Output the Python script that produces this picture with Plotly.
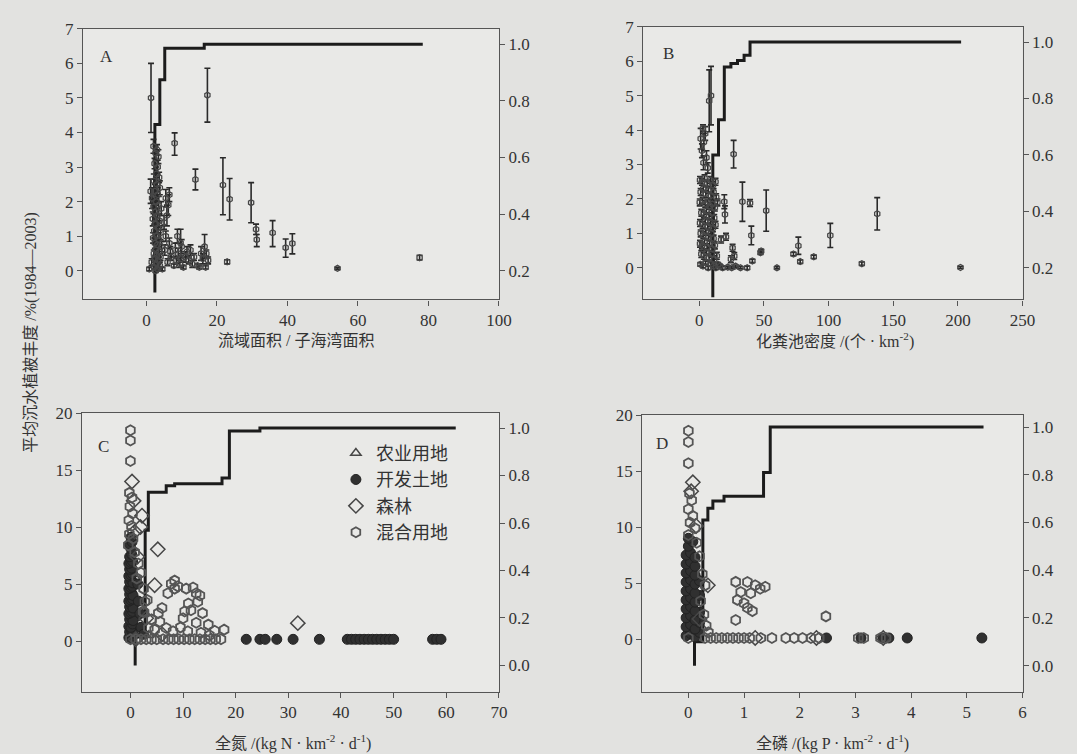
import plotly.graph_objects as go

# ---------------- Panel A data ----------------
A_x = [1.3, 17.3, 8.0, 13.9, 21.7, 23.6, 29.7, 31.1, 31.3, 35.8, 39.5, 41.4, 22.9, 54.2, 77.5, 1.2,
       2.0, 2.6, 3.0, 3.4, 2.3, 3.2, 2.8, 3.6, 2.1, 3.0, 3.8, 2.4, 3.2, 1.6, 2.8, 3.5, 2.0, 4.2, 2.5, 3.1,
       1.8, 3.7, 2.6, 3.3, 2.2, 4.0, 2.9, 1.9, 3.5, 2.4, 3.1, 4.3, 2.7, 3.6, 2.1, 3.0, 4.0, 2.5, 3.3, 1.5,
       2.8, 3.8, 2.2, 3.2, 0.8, 4.5, 2.6,
       5.5, 6.2, 5.8, 6.5, 5.0,
       5.5, 6.5, 9.7, 8.2, 9.0, 10.0, 7.0, 8.5, 9.5, 11.0, 12.0, 6.0, 7.8, 10.5, 13.0, 11.5, 5.2, 6.8,
       14.5, 15.5, 16.5, 16.0, 17.0, 15.0, 16.8, 17.5, 8.8, 9.8, 12.5, 13.5]
A_y = [5.0, 5.08, 3.69, 2.64, 2.48, 2.07, 1.97, 1.2, 0.9, 1.1, 0.67, 0.79, 0.26, 0.07, 0.38, 2.3,
       3.6, 3.4, 3.5, 3.3, 3.1, 3.0, 2.8, 2.7, 2.6, 2.5, 2.4, 2.3, 2.2, 2.1, 2.0, 1.9, 1.85, 1.8, 1.7, 1.6,
       1.5, 1.45, 1.35, 1.25, 1.15, 1.1, 1.0, 0.95, 0.9, 0.8, 0.75, 0.7, 0.6, 0.55, 0.5, 0.45, 0.4, 0.35, 0.3, 0.25,
       0.2, 0.15, 0.1, 0.05, 0.05, 0.05, 0.0,
       2.1, 1.9, 1.6, 2.2, 1.4,
       1.0, 0.8, 0.8, 0.6, 0.5, 0.7, 0.4, 0.3, 0.2, 0.4, 0.3, 0.25, 0.15, 0.1, 0.2, 0.55, 0.6, 0.55,
       0.15, 0.5, 0.7, 0.35, 0.5, 0.1, 0.1, 0.3, 1.0, 0.35, 0.6, 0.4]
A_err_up = [1.0, 0.78, 0.3, 0.3, 0.79, 0.6, 0.58, 0.15, 0.15, 0.35, 0.25, 0.28, 0.06, 0.03, 0.07, 0.35,
            0.2, 0.2, 0.15, 0.2, 0.15, 0.2, 0.2, 0.15, 0.2, 0.2, 0.2, 0.2, 0.2, 0.3, 0.2, 0.25, 0.2, 0.2, 0.2, 0.2,
            0.2, 0.2, 0.2, 0.2, 0.2, 0.2, 0.2, 0.15, 0.2, 0.15, 0.15, 0.15, 0.15, 0.15, 0.1, 0.1, 0.1, 0.1, 0.1, 0.1,
            0.1, 0.1, 0.05, 0.05, 0.05, 0.05, 0.05,
            0.25, 0.3, 0.3, 0.2, 0.2,
            0.15, 0.15, 0.4, 0.2, 0.15, 0.2, 0.1, 0.1, 0.1, 0.15, 0.1, 0.1, 0.05, 0.05, 0.1, 0.15, 0.15, 0.15,
            0.05, 0.2, 0.35, 0.15, 0.1, 0.05, 0.05, 0.1, 0.2, 0.1, 0.15, 0.1]
A_err_down = [1.0, 0.78, 0.35, 0.3, 0.86, 0.6, 0.58, 0.15, 0.2, 0.4, 0.28, 0.3, 0.06, 0.03, 0.07, 0.35,
              0.2, 0.2, 0.15, 0.2, 0.15, 0.2, 0.2, 0.15, 0.2, 0.2, 0.2, 0.2, 0.2, 0.3, 0.2, 0.25, 0.2, 0.2, 0.2, 0.2,
              0.2, 0.2, 0.2, 0.2, 0.2, 0.2, 0.2, 0.15, 0.2, 0.15, 0.15, 0.15, 0.15, 0.15, 0.1, 0.1, 0.1, 0.1, 0.1, 0.1,
              0.1, 0.1, 0.05, 0.05, 0.05, 0.05, 0.05,
              0.25, 0.3, 0.3, 0.2, 0.2,
              0.15, 0.15, 0.4, 0.2, 0.15, 0.2, 0.1, 0.1, 0.1, 0.15, 0.1, 0.1, 0.05, 0.05, 0.1, 0.15, 0.15, 0.15,
              0.05, 0.2, 0.35, 0.15, 0.1, 0.05, 0.05, 0.1, 0.2, 0.1, 0.15, 0.1]
A_cdf_x = [2.4, 2.4, 3.8, 5.2, 16.4, 78.4]
A_cdf_y = [0.123, 0.717, 0.875, 0.986, 1.0, 1.0]

# ---------------- Panel B data ----------------
B_x = [7.6, 9.0, 26.5, 33.3, 39.2, 51.7, 40.2, 47.8, 60.0, 72.8, 76.6, 78.0, 88.5, 101.3, 125.7, 137.6, 202.0,
       2.8, 1.0, 3.5, 4.5, 2.0, 5.5, 3.2, 6.5,
       0.5, 2.0, 4.0, 6.0, 8.5, 10.5, 12.5, 1.0, 3.0, 5.0, 7.0, 9.0, 11.0, 13.0,
       0.3, 2.5, 4.5, 6.5, 8.0, 10.0, 12.0, 14.0, 1.5, 3.5, 5.5, 7.5, 9.5, 11.5,
       0.5, 2.5, 4.5, 6.5, 8.5, 10.5, 12.5, 1.0, 3.0, 5.0, 7.0, 9.0, 11.0,
       0.5, 2.0, 4.0, 6.0, 8.0, 10.0, 12.0, 1.5, 3.5, 5.5, 7.5, 9.5, 11.5, 13.5,
       0.8, 2.8, 4.8, 6.8, 8.8, 10.8, 12.8, 14.5, 16.0, 18.0, 22.0, 25.0, 28.0,
       19.3, 19.8, 16.8, 20.6, 25.7, 27.0, 24.4, 41.0, 37.0, 47.3, 31.8]
B_y = [4.85, 5.0, 3.3, 1.92, 1.88, 1.66, 0.94, 0.49, 0.0, 0.4, 0.64, 0.18, 0.32, 0.94, 0.12, 1.57, 0.01,
       4.05, 3.75, 3.65, 3.9, 3.4, 3.2, 3.05, 2.9,
       2.55, 2.5, 2.6, 2.45, 2.55, 2.4, 2.5, 2.2, 2.3, 2.15, 2.25, 2.1, 2.2, 2.05,
       1.9, 1.95, 1.85, 1.9, 1.8, 1.85, 1.75, 1.9, 1.6, 1.55, 1.65, 1.5, 1.6, 1.45,
       1.3, 1.25, 1.35, 1.2, 1.3, 1.15, 1.25, 1.0, 0.95, 1.05, 0.9, 1.0, 0.85,
       0.7, 0.65, 0.75, 0.6, 0.7, 0.55, 0.65, 0.4, 0.35, 0.45, 0.3, 0.4, 0.25, 0.35,
       0.1, 0.05, 0.15, 0.0, 0.1, 0.05, 0.0, 0.1, 0.05, 0.0, 0.02, 0.0, 0.05,
       1.92, 1.55, 0.82, 0.9, 0.58, 0.34, 0.25, 0.2, 0.0, 0.44, 0.0]
B_err = [0.9, 0.85, 0.4, 0.57, 0.1, 0.6, 0.27, 0.05, 0.03, 0.05, 0.25, 0.05, 0.05, 0.35, 0.05, 0.47, 0.03,
         0.1, 0.3, 0.25, 0.2, 0.2, 0.2, 0.2, 0.15,
         0.1, 0.1, 0.1, 0.1, 0.1, 0.1, 0.1, 0.1, 0.1, 0.1, 0.1, 0.1, 0.1, 0.1,
         0.1, 0.1, 0.1, 0.1, 0.1, 0.1, 0.1, 0.1, 0.1, 0.1, 0.1, 0.1, 0.1, 0.1,
         0.1, 0.1, 0.1, 0.1, 0.1, 0.1, 0.1, 0.1, 0.1, 0.1, 0.1, 0.1, 0.1,
         0.1, 0.1, 0.1, 0.1, 0.1, 0.1, 0.1, 0.1, 0.1, 0.1, 0.1, 0.1, 0.1, 0.1,
         0.05, 0.05, 0.05, 0.05, 0.05, 0.05, 0.05, 0.05, 0.05, 0.05, 0.03, 0.03, 0.03,
         0.2, 0.25, 0.1, 0.1, 0.1, 0.1, 0.1, 0.05, 0.05, 0.05, 0.03]
B_cdf_x = [10.4, 10.4, 14.8, 19.3, 24.4, 29.5, 34.6, 39.2, 202.5]
B_cdf_y = [0.096, 0.60, 0.725, 0.912, 0.924, 0.935, 0.953, 1.0, 1.0]

# ---------------- Panel C data (by land use) ----------------
C_dev_x = [22.0, 24.6, 25.6, 27.8, 30.9, 35.9, 41.2, 42.0, 42.8, 43.6, 44.4, 45.2, 46.0, 46.8, 47.6, 48.4,
           49.2, 50.0, 57.4, 58.2, 59.0,
           -0.3, 0.1, 0.4, -0.15, 0.25, 0.5, -0.3, 0.1, 0.4, -0.15, 0.25, 0.5, -0.3, 0.1, 0.4, -0.15, 0.25, 0.5,
           -0.3, 0.1, 0.4, -0.15, 0.25, 0.5, -0.3, 0.1, 0.4, -0.15, 0.25, 0.5, -0.3, 0.1, 0.4, -0.15, 0.25,
           -0.3, 0.1, 0.4, -0.15, 0.25, 0.1, -0.2, 0.3, 0.1, 1.5, 2.0, 1.8, 2.5, 1.4]
C_dev_y = [0.15, 0.15, 0.15, 0.15, 0.15, 0.15, 0.15, 0.15, 0.15, 0.15, 0.15, 0.15, 0.15, 0.15, 0.15, 0.15,
           0.15, 0.15, 0.15, 0.15, 0.15,
           0.3, 0.2, 0.4, 0.8, 0.9, 0.7, 1.3, 1.2, 1.5, 1.9, 2.0, 1.8, 2.4, 2.5, 2.6, 3.0, 3.1, 2.9,
           3.5, 3.6, 3.7, 4.1, 4.2, 4.0, 4.6, 4.7, 4.8, 5.2, 5.3, 5.1, 5.7, 5.8, 5.9, 6.3, 6.4,
           6.8, 6.9, 7.0, 7.4, 7.6, 8.1, 8.5, 8.7, 9.1, 3.5, 1.2, 2.4, 0.6, 5.0]
C_mix_x = [0.0, 0.0, 0.0, -0.2, 0.3, -0.1, 0.4, -0.3, 0.2, -0.2, 0.5, -0.4, 0.8, 1.5, 2.0, 1.2, 2.5, 3.2, 2.6,
           7.75, 7.1, 8.4, 10.6, 11.9, 12.5, 12.8, 10.3, 11.5, 13.7, 10.0, 5.3, 4.0, 5.6, 6.8, 12.5, 14.8,
           16.0, 17.8, 3.4, 2.4, 2.75, 4.6, 8.1, 10.9, 13.4, 8.4, 9.0, 13.2, 11.0, 6.0, 9.5, 15.0,
           0.0, 1.0, 2.0, 3.0, 4.0, 5.0, 6.2, 7.2, 8.2, 9.2, 10.2, 11.2, 12.2, 13.2, 14.2, 15.2, 16.2, 17.2]
C_mix_y = [18.5, 17.6, 15.8, 13.0, 12.6, 11.8, 11.2, 10.6, 10.1, 9.4, 9.0, 8.4, 7.8, 6.8, 6.0, 5.5, 4.6, 3.6, 2.5,
           5.03, 4.2, 4.6, 4.6, 4.7, 4.2, 3.45, 2.6, 2.7, 2.45, 2.0, 2.45, 1.9, 1.7, 1.15, 1.6, 1.44,
           0.9, 1.0, 1.15, 2.6, 3.45, 1.0, 0.86, 0.86, 0.72, 5.3, 4.8, 4.0, 3.3, 2.9, 1.2, 0.5,
           0.15, 0.15, 0.15, 0.15, 0.15, 0.15, 0.15, 0.15, 0.15, 0.15, 0.15, 0.15, 0.15, 0.15, 0.15, 0.15, 0.15, 0.15]
C_for_x = [0.3, 0.6, 2.2, 1.9, 0.8, 5.2, 4.6, 31.8, 1.3, 3.0, 6.0, 1.0]
C_for_y = [14.0, 12.3, 11.0, 10.0, 9.6, 8.05, 4.9, 1.57, 7.4, 2.0, 0.6, 0.15]
C_agr_x = [0.5, 1.0, 2.0, 0.8, 3.5]
C_agr_y = [7.0, 5.5, 3.0, 2.0, 0.5]
C_cdf_x = [0.9, 0.9, 2.8, 3.4, 6.8, 8.4, 17.4, 18.8, 24.6, 61.8]
C_cdf_y = [0.0, 0.12, 0.57, 0.73, 0.757, 0.765, 0.79, 0.988, 1.0, 1.0]

# ---------------- Panel D data (by land use) ----------------
D_dev_x = [2.48, 3.1, 3.5, 3.6, 3.93, 5.27,
           -0.04, 0.04, 0.12, 0.2, -0.04, 0.04, 0.12, 0.2, -0.04, 0.04, 0.12, 0.2, -0.04, 0.04, 0.12,
           -0.04, 0.04, 0.12, 0.2, -0.04, 0.04, 0.12, -0.04, 0.04, 0.12, 0.2, -0.04, 0.04, 0.12,
           -0.04, 0.04, 0.12, -0.04, 0.04, 0.12, 0.0, 0.08, 0.0]
D_dev_y = [0.1, 0.1, 0.1, 0.1, 0.1, 0.1,
           0.3, 0.5, 0.2, 0.6, 1.1, 1.3, 0.9, 1.5, 1.9, 2.1, 1.7, 2.4, 2.7, 2.9, 2.5,
           3.5, 3.7, 3.3, 3.9, 4.3, 4.5, 4.1, 5.1, 5.3, 4.9, 5.2, 5.9, 6.1, 5.7,
           6.7, 6.9, 6.5, 7.5, 7.7, 7.3, 8.3, 8.7, 9.0]
D_mix_x = [0.0, 0.0, 0.0, 0.02, 0.06, 0.0, 0.08, 0.03, 0.12, 0.0, 0.15, 0.2, 0.25, 0.3, 0.22, 0.28, 0.32, 0.36,
           0.85, 1.06, 1.2, 1.38, 0.94, 1.12, 0.88, 1.0, 1.15, 1.06, 0.85, 1.29, 2.47,
           0.0, 0.3, 0.4, 0.5, 0.6, 0.7, 0.8, 0.9, 1.0, 1.1, 1.3, 1.5, 1.75, 1.9, 2.05, 2.2, 2.35,
           3.05, 3.15, 3.45, 3.55]
D_mix_y = [18.6, 17.6, 15.7, 13.0, 12.4, 11.6, 11.0, 10.4, 9.9, 9.3, 8.6, 7.4, 5.8, 4.8, 3.4, 2.2, 1.2, 0.6,
           5.11, 5.1, 4.8, 4.67, 4.2, 4.1, 3.5, 3.2, 2.5, 2.8, 1.7, 4.5, 2.03,
           0.1, 0.1, 0.1, 0.1, 0.1, 0.1, 0.1, 0.1, 0.1, 0.1, 0.1, 0.1, 0.1, 0.1, 0.1, 0.1, 0.1,
           0.1, 0.1, 0.1, 0.1]
D_for_x = [0.08, 0.05, 0.14, 0.35, 1.2, 2.3, 3.5, 0.2]
D_for_y = [14.0, 13.2, 10.1, 4.8, 0.1, 0.1, 0.1, 1.8]
D_agr_x = [0.1, 0.15, 0.25]
D_agr_y = [6.0, 3.0, 1.0]
D_cdf_x = [0.11, 0.11, 0.26, 0.35, 0.44, 0.64, 1.35, 1.47, 5.3]
D_cdf_y = [0.0, 0.1, 0.61, 0.66, 0.69, 0.71, 0.81, 1.0, 1.0]

# ---------------- labels ----------------
legend_names = ["农业用地", "开发土地", "森林", "混合用地"]
x_titles = ["流域面积 / 子海湾面积", "化粪池密度 /(个 · km<sup>-2</sup>)",
            "全氮 /(kg N · km<sup>-2</sup> · d<sup>-1</sup>)", "全磷 /(kg P · km<sup>-2</sup> · d<sup>-1</sup>)"]
y_title = "平均沉水植被丰度 /%(1984—2003)"
panel_letters = ["A", "B", "C", "D"]

# ---------------- styling ----------------
INK = "#2a2a2a"
PT = "#474747"
FONT = "Liberation Serif, Noto Sans CJK SC"
W, H = 1077, 754

fig = go.Figure()

def cdf_trace(xs, ys, i):
    return go.Scatter(x=xs, y=ys, mode="lines", line=dict(color="#1c1c1c", width=3, shape="hv"),
                      xaxis=f"x{i}", yaxis=f"y{i}", showlegend=False, hoverinfo="skip")

# Panel A
fig.add_trace(cdf_trace(A_cdf_x, A_cdf_y, 1))
fig.add_trace(go.Scatter(x=A_x, y=A_y, mode="markers", xaxis="x1", yaxis="y5", showlegend=False,
                         marker=dict(symbol="hexagon-open", size=6, color=PT, line=dict(width=1.3, color=PT)),
                         error_y=dict(type="data", symmetric=False, array=A_err_up, arrayminus=A_err_down,
                                      color=INK, thickness=1.6, width=3)))
# Panel B
fig.add_trace(cdf_trace(B_cdf_x, B_cdf_y, 2))
fig.add_trace(go.Scatter(x=B_x, y=B_y, mode="markers", xaxis="x2", yaxis="y6", showlegend=False,
                         marker=dict(symbol="hexagon-open", size=6, color=PT, line=dict(width=1.3, color=PT)),
                         error_y=dict(type="data", array=B_err, color=INK, thickness=1.6, width=3)))

def land_traces(i, yax, agr, dev, forest, mix, show):
    out = []
    out.append(go.Scatter(x=agr[0], y=agr[1], mode="markers", name=legend_names[0], xaxis=f"x{i}", yaxis=yax,
                          showlegend=show, legendgroup="a",
                          marker=dict(symbol="triangle-up-open", size=9, color=PT, line=dict(width=1.5, color=PT))))
    out.append(go.Scatter(x=dev[0], y=dev[1], mode="markers", name=legend_names[1], xaxis=f"x{i}", yaxis=yax,
                          showlegend=show, legendgroup="b",
                          marker=dict(symbol="circle", size=10, color="#303030", line=dict(width=1, color="#222"))))
    out.append(go.Scatter(x=forest[0], y=forest[1], mode="markers", name=legend_names[2], xaxis=f"x{i}", yaxis=yax,
                          showlegend=show, legendgroup="c",
                          marker=dict(symbol="diamond-open", size=11, color=PT, line=dict(width=1.5, color=PT))))
    out.append(go.Scatter(x=mix[0], y=mix[1], mode="markers", name=legend_names[3], xaxis=f"x{i}", yaxis=yax,
                          showlegend=show, legendgroup="d",
                          marker=dict(symbol="hexagon-open", size=10, color="#555", line=dict(width=1.8, color="#555"))))
    return out

fig.add_trace(cdf_trace(C_cdf_x, C_cdf_y, 3))
for t in land_traces(3, "y7", (C_agr_x, C_agr_y), (C_dev_x, C_dev_y), (C_for_x, C_for_y), (C_mix_x, C_mix_y), True):
    fig.add_trace(t)
fig.add_trace(cdf_trace(D_cdf_x, D_cdf_y, 4))
for t in land_traces(4, "y8", (D_agr_x, D_agr_y), (D_dev_x, D_dev_y), (D_for_x, D_for_y), (D_mix_x, D_mix_y), False):
    fig.add_trace(t)

# ---------------- axes ----------------
def px_dom(a, b, total):
    return [a / total, b / total]

xdoms = [px_dom(84, 505, W), px_dom(651, 1035, W), px_dom(83, 505, W), px_dom(650, 1035, W)]
ydoms = [[1 - 294 / H, 1 - 20 / H], [1 - 294 / H, 1 - 18 / H], [1 - 691 / H, 1 - 409 / H], [1 - 691 / H, 1 - 411 / H]]
xranges = [[-18, 100], [-43.5, 250], [-9.2, 70], [-0.83, 6]]
xticks = [[0, 20, 40, 60, 80, 100], [0, 50, 100, 150, 200, 250], [0, 10, 20, 30, 40, 50, 60, 70], [0, 1, 2, 3, 4, 5, 6]]
yranges = [[-0.83, 7.0], [-0.92, 7.0], [-4.45, 20.0], [-4.7, 20.0]]
yticks = [[0, 1, 2, 3, 4, 5, 6, 7], [0, 1, 2, 3, 4, 5, 6, 7], [0, 5, 10, 15, 20], [0, 5, 10, 15, 20]]
rranges = [[0.098, 1.055], [0.088, 1.054], [-0.111, 1.063], [-0.109, 1.050]]
rticks = [[0.2, 0.4, 0.6, 0.8, 1.0], [0.2, 0.4, 0.6, 0.8, 1.0], [0.0, 0.2, 0.4, 0.6, 0.8, 1.0], [0.0, 0.2, 0.4, 0.6, 0.8, 1.0]]

tickfont = dict(family=FONT, size=17, color="#333")
axis_common = dict(showgrid=False, zeroline=False, showline=True, linecolor="#555", linewidth=1.2,
                   ticks="outside", ticklen=5, tickcolor="#555", tickwidth=1.2, tickfont=tickfont)
lay = {}
for k in range(4):
    i = k + 1
    lay[f"xaxis{i}"] = dict(domain=xdoms[k], range=xranges[k], tickvals=xticks[k], anchor=f"y{i}",
                            mirror=True, **axis_common)
    lay[f"yaxis{i}"] = dict(domain=ydoms[k], range=rranges[k], tickvals=rticks[k], tickformat=".1f",
                            anchor=f"x{i}", side="right", **axis_common)
    lay[f"yaxis{i+4}"] = dict(range=yranges[k], tickvals=yticks[k], anchor=f"x{i}", overlaying=f"y{i}",
                              side="left", **axis_common)

annos = []
letter_pos = [(108, 48), (677, 45), (105, 443), (670, 440)]
for k, (px, py) in enumerate(letter_pos):
    annos.append(dict(x=px / W, y=1 - py / H, xref="paper", yref="paper", text=panel_letters[k], showarrow=False,
                      xanchor="center", yanchor="middle", font=dict(family=FONT, size=17, color="#333")))
title_pos = [(300, 335), (845, 335), (297, 742), (843, 742)]
for k, (px, py) in enumerate(title_pos):
    annos.append(dict(x=px / W, y=1 - py / H, xref="paper", yref="paper", text=x_titles[k], showarrow=False,
                      xanchor="center", yanchor="middle", font=dict(family=FONT, size=16, color="#333")))
annos.append(dict(x=31 / W, y=1 - 328 / H, xref="paper", yref="paper", text=y_title, showarrow=False, textangle=-90,
                  xanchor="center", yanchor="middle", font=dict(family=FONT, size=16, color="#333")))

fig.update_layout(
    width=W, height=H, margin=dict(l=0, r=0, t=0, b=0),
    paper_bgcolor="#e2e2e0", plot_bgcolor="#e9e9e7",
    font=dict(family=FONT, color="#333"),
    showlegend=True,
    legend=dict(x=340 / W, y=1 - 431 / H, xanchor="left", yanchor="top", bgcolor="rgba(0,0,0,0)",
                font=dict(family=FONT, size=18, color="#333"), itemwidth=30, tracegroupgap=0),
    annotations=annos,
    **lay,
)

fig.write_html("out.html", config={"displayModeBar": False},
               post_script="document.body.style.margin='0px';")
